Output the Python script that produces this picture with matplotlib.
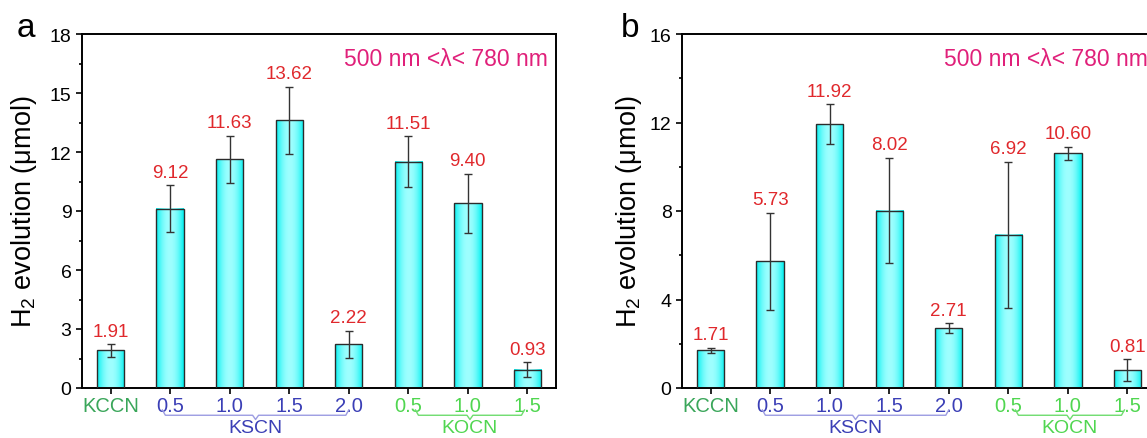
import matplotlib
import numpy as np

matplotlib.use("Agg")
import matplotlib.pyplot as plt  # noqa: E402
from matplotlib.ticker import MultipleLocator  # noqa: E402

plt.rcParams["font.family"] = ["Liberation Sans", "DejaVu Sans"]
plt.rcParams["mathtext.fontset"] = "custom"
plt.rcParams["mathtext.rm"] = "Liberation Sans"
plt.rcParams["mathtext.it"] = "Liberation Sans:italic"

# data
labels = ["KCCN", "0.5", "1.0", "1.5", "2.0", "0.5", "1.0", "1.5"]
groups = ["KCCN", "KSCN", "KSCN", "KSCN", "KSCN", "KOCN", "KOCN", "KOCN"]

h2_a = [1.91, 9.12, 11.63, 13.62, 2.22, 11.51, 9.40, 0.93]
err_a = [0.32, 1.20, 1.20, 1.70, 0.70, 1.30, 1.50, 0.38]
h2_b = [1.71, 5.73, 11.92, 8.02, 2.71, 6.92, 10.60, 0.81]
err_b = [0.12, 2.20, 0.90, 2.38, 0.21, 3.30, 0.30, 0.50]

group_colors = {"KCCN": "#3aa65a", "KSCN": "#3b3fb6", "KOCN": "#50d650"}
brace_colors = {"KSCN": "#9c9ce2", "KOCN": "#6edc6e"}
brace_trim = {"KSCN": (-0.13, 0.0), "KOCN": (0.12, -0.05)}

RED = "#e0282c"
PINK = "#e0207a"
W, H = 1147, 439


def _axes(fig, left_px):
    # axes box given in pixels of the 1147x439 canvas
    return fig.add_axes([left_px / W, (H - 389) / H, 474 / W, 354 / H])


def _bars(ax, x, h, w=0.46):
    t = np.linspace(-1, 1, 64)
    k = 1 - t ** 2
    edge = np.array([0.0, 0.94, 0.94])
    mid = np.array([0.62, 1.0, 1.0])
    img = (edge + (mid - edge) * k[:, None])[None, :, :]
    for xi, hi in zip(x, h):
        ax.imshow(img, extent=[xi - w / 2, xi + w / 2, 0, hi], aspect="auto",
                  interpolation="bilinear", zorder=2)
    ax.bar(x, h, w, facecolor="none", edgecolor="#2b2b2b", lw=1, zorder=3)


def _brace(ax, x0, x1, color):
    tr = ax.get_xaxis_transform()
    xc = (x0 + x1) / 2
    d = 0.05
    xs = [x0, x0 + d, xc - d, xc, xc + d, x1 - d, x1]
    ys = [-0.062, -0.077, -0.077, -0.089, -0.077, -0.077, -0.062]
    ax.plot(xs, ys, color=color, lw=1, transform=tr, clip_on=False)
    return xc


def panel(fig, left_px, h2, err, ymax, major, letter, letter_px, ylab_px):
    ax = _axes(fig, left_px)
    x = np.arange(1, len(h2) + 1)
    _bars(ax, x, h2)
    ax.errorbar(x, h2, yerr=err, fmt="none", ecolor="#333333", elinewidth=1,
                capsize=3, capthick=1, zorder=4)
    for xi, v, e in zip(x, h2, err):
        ax.annotate(f"{v:.2f}", (xi, v + e), xytext=(0, 13),
                    textcoords="offset pixels", ha="center", va="center",
                    color=RED, fontsize=13.5)

    ax.set_xlim(0.52, 8.48)
    ax.set_ylim(0, ymax)
    ax.yaxis.set_major_locator(MultipleLocator(major))
    ax.yaxis.set_minor_locator(MultipleLocator(major / 2))
    ax.set_xticks(x)
    ax.set_xticklabels(labels, fontsize=14.5)
    for lab, g in zip(ax.get_xticklabels(), groups):
        lab.set_color(group_colors[g])
    ax.tick_params(axis="y", which="major", direction="out", length=4.5,
                   width=1.2, labelsize=14, pad=3)
    ax.tick_params(axis="y", which="minor", direction="out", length=2.5,
                   width=1.2)
    ax.tick_params(axis="x", direction="out", length=4, width=1.2, pad=1.5)
    for s in ax.spines.values():
        s.set_linewidth(1.4)

    for g in ("KSCN", "KOCN"):
        xs = [xi for xi, gg in zip(x, groups) if gg == g]
        a, b = brace_trim[g]
        xc = _brace(ax, xs[0] + a, xs[-1] + b, brace_colors[g])
        ax.text(xc, -0.112, g, transform=ax.get_xaxis_transform(),
                ha="center", va="center", fontsize=14,
                color=group_colors[g])

    ax.text(1 - 8 / 474, 0.932, "500 nm <λ< 780 nm", transform=ax.transAxes,
            ha="right", va="center", color=PINK, fontsize=16.5)
    ax.text(ylab_px / 474, 0.5, "H$_2$ evolution (μmol)",
            transform=ax.transAxes, rotation=90, ha="center", va="center",
            fontsize=19.5)
    fig.text(letter_px / W, 1 - 37 / H, letter, ha="left", va="baseline",
             fontsize=24)
    return ax


fig = plt.figure(figsize=(W / 100, H / 100), dpi=100)
panel(fig, 82, h2_a, err_a, 18, 3, "a", 17, -58)
panel(fig, 682, h2_b, err_b, 16, 4, "b", 621, -53)
fig.savefig("out.png", dpi=100)
plt.close(fig)
